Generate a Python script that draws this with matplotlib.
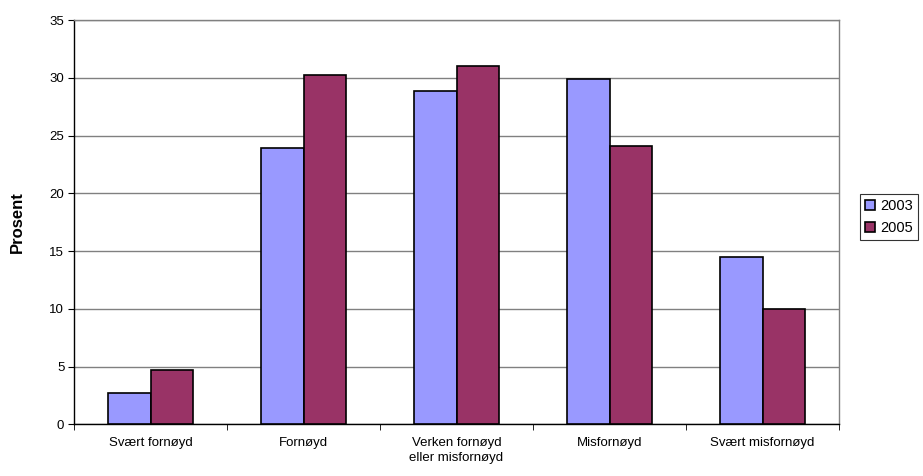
import matplotlib
matplotlib.use("Agg")
import matplotlib.pyplot as plt
import numpy as np

plt.rcParams['font.family'] = ['Liberation Sans', 'DejaVu Sans']

categories = ["Svært fornøyd", "Fornøyd", "Verken fornøyd\neller misfornøyd",
              "Misfornøyd", "Svært misfornøyd"]
series_names = ["2003", "2005"]
values_2003 = [2.7, 23.9, 28.9, 29.9, 14.5]
values_2005 = [4.7, 30.3, 31.0, 24.1, 10.0]
y_ticks = [0, 5, 10, 15, 20, 25, 30, 35]

colors = ["#9999FF", "#993366"]
bar_w = 0.28

fig = plt.figure(figsize=(9.23, 4.76), dpi=100)
ax = fig.add_axes([0.0802, 0.1086, 0.9090 - 0.0802, 0.9574 - 0.1086])

x = np.arange(len(categories))
bars = []
for i, (vals, col) in enumerate(zip([values_2003, values_2005], colors)):
    b = ax.bar(x + (i - 0.5) * bar_w, vals, width=bar_w, color=col,
               edgecolor="black", linewidth=1.2, label=series_names[i], zorder=3)
    bars.append(b)

ax.set_xlim(-0.5, len(categories) - 0.5)
ax.set_ylim(0, 35)
ax.set_yticks(y_ticks)
ax.yaxis.grid(True, color="#808080", linewidth=1.0, zorder=0)
ax.set_axisbelow(True)

ax.set_xticks(x)
ax.set_xticklabels(categories, fontsize=9.5, linespacing=1.35)
ax.set_xticks(np.arange(len(categories) + 1) - 0.5, minor=True)
ax.tick_params(axis="x", which="major", length=0, pad=9)
ax.tick_params(axis="x", which="minor", length=4, direction="out", color="black")
ax.tick_params(axis="y", length=4, direction="out", color="black", labelsize=9.5, pad=3)

for s in ["left", "bottom"]:
    ax.spines[s].set_color("black")
    ax.spines[s].set_linewidth(1.0)
for s in ["top", "right"]:
    ax.spines[s].set_color("#808080")
    ax.spines[s].set_linewidth(1.0)

ax.set_ylabel("Prosent", fontsize=12, fontweight="bold", labelpad=18)

leg = fig.legend(handles=bars, labels=series_names, loc="upper left",
                 bbox_to_anchor=(860 / 923, 1 - 194 / 476), fontsize=10.5,
                 frameon=True, fancybox=False, shadow=False,
                 handlelength=0.7, handleheight=0.7, handletextpad=0.35,
                 borderpad=0.35, labelspacing=0.55, borderaxespad=0)
leg.get_frame().set_edgecolor("black")
leg.get_frame().set_linewidth(0.8)

fig.savefig("out.png", dpi=100)
